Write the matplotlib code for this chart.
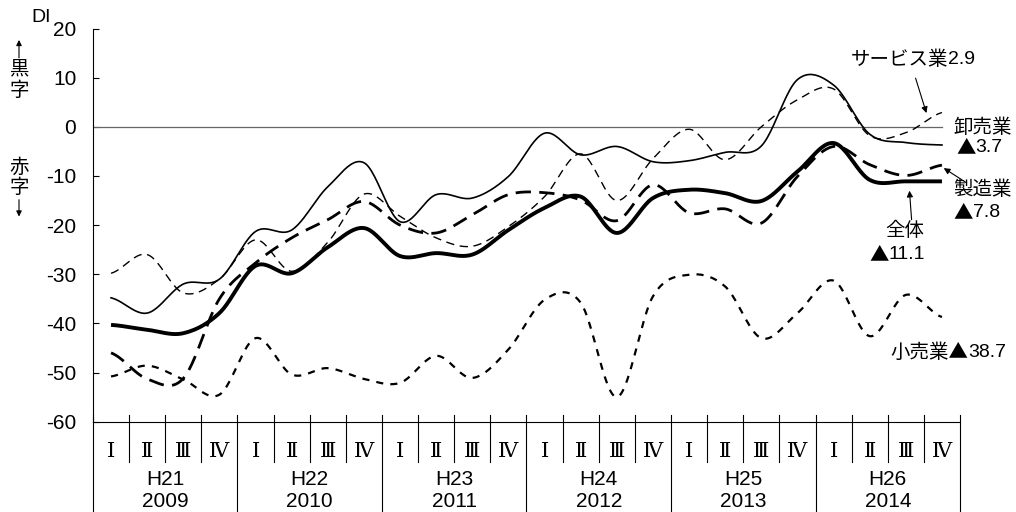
import numpy as np
import matplotlib
matplotlib.use("Agg")
import matplotlib.pyplot as plt
import matplotlib.transforms as mtransforms

plt.rcParams['font.family'] = ['Liberation Sans', 'Noto Sans CJK JP', 'DejaVu Sans']
plt.rcParams['axes.unicode_minus'] = False
CJK = ['Noto Sans CJK JP', 'DejaVu Sans']

# 四半期ごとの採算DI（2009年I期～2014年IV期）
quarters = ['Ⅰ', 'Ⅱ', 'Ⅲ', 'Ⅳ'] * 6
heisei = ['H21', 'H22', 'H23', 'H24', 'H25', 'H26']
years = ['2009', '2010', '2011', '2012', '2013', '2014']

zentai = [-40.3, -41.3, -42.0, -37.9, -28.3, -29.8, -24.5, -20.6,
          -26.3, -25.7, -26.0, -21.0, -16.5, -14.2, -21.6, -14.5,
          -12.8, -13.5, -15.1, -9.1, -3.3, -10.8, -11.1, -11.1]
seizo = [-46.0, -51.3, -51.2, -35.0, -27.7, -22.6, -18.9, -15.2,
         -20.0, -21.6, -17.9, -13.8, -13.4, -14.9, -19.1, -11.8,
         -17.5, -16.7, -19.6, -10.1, -4.0, -7.7, -9.9, -7.8]
oroshi = [-34.8, -37.9, -32.0, -31.0, -21.3, -21.0, -12.2, -7.3,
          -19.3, -13.8, -14.5, -10.1, -1.3, -5.7, -4.0, -7.1,
          -6.9, -5.2, -3.9, 9.6, 8.5, -1.5, -3.2, -3.7]
service = [-29.8, -26.0, -33.8, -31.0, -23.0, -29.4, -23.5, -13.7,
           -18.2, -22.6, -24.3, -20.3, -14.2, -5.5, -15.0, -6.5,
           -0.5, -6.7, 0.0, 5.5, 7.7, -1.8, -1.2, 2.9]
kouri = [-50.8, -48.6, -51.4, -54.5, -43.0, -50.4, -49.1, -51.3,
         -52.1, -46.6, -51.1, -45.3, -35.2, -35.8, -55.0, -34.5,
         -30.1, -32.5, -43.0, -37.9, -31.3, -42.6, -34.2, -38.7]


def smooth(vals, n=24):
    # Catmull-Rom曲線で各四半期の値を滑らかにつなぐ
    p = np.asarray(vals, float)
    x = np.arange(len(p)) + 0.5
    pp = np.r_[p[0], p, p[-1]]
    xs, ys = [], []
    t = np.linspace(0, 1, n, endpoint=False)
    for i in range(len(p) - 1):
        p0, p1, p2, p3 = pp[i:i + 4]
        y = 0.5 * (2 * p1 + (-p0 + p2) * t + (2 * p0 - 5 * p1 + 4 * p2 - p3) * t ** 2
                   + (-p0 + 3 * p1 - 3 * p2 + p3) * t ** 3)
        xs.append(x[i] + t)
        ys.append(y)
    xs.append([x[-1]])
    ys.append([p[-1]])
    return np.concatenate(xs), np.concatenate(ys)


fig = plt.figure(figsize=(10.16, 5.12), dpi=100)
ax = fig.add_axes([0.0915, 0.1764, 0.8534, 0.7679])

ax.plot([0, 23.5], [0, 0], color='#666666', lw=0.9)

x, y = smooth(kouri)
ax.plot(x, y, color='black', lw=1.6, dashes=(3.2, 3.2))
x, y = smooth(service)
ax.plot(x, y, color='black', lw=1.0, dashes=(6, 4))
x, y = smooth(oroshi)
ax.plot(x, y, color='black', lw=1.2)
x, y = smooth(seizo)
ax.plot(x, y, color='black', lw=2.0, dashes=(5.5, 3))
x, y = smooth(zentai)
ax.plot(x, y, color='black', lw=2.8, solid_capstyle='butt')

ax.set_xlim(0, 24)
ax.set_ylim(-60, 20)
ax.set_yticks(range(-60, 21, 10))
ax.tick_params(axis='y', direction='in', length=4, width=0.8, pad=12, labelsize=15)
ax.set_xticks([])
for s in ['top', 'right']:
    ax.spines[s].set_visible(False)
ax.spines['left'].set_linewidth(0.8)
ax.spines['bottom'].set_linewidth(0.8)

# 下部の期・年の区切り表
trans = mtransforms.blended_transform_factory(ax.transData, ax.transAxes)
for k in range(25):
    bottom = -0.23 if k % 4 == 0 else -0.1025
    ax.plot([k, k], [0.017, bottom], transform=trans, color='black', lw=0.8,
            clip_on=False)
for i, q in enumerate(quarters):
    ax.text(i + 0.5, -0.077, q, transform=trans, ha='center', va='center',
            fontsize=15, family=['DejaVu Serif', 'Noto Sans CJK JP'])
for j in range(len(years)):
    ax.text(j * 4 + 2, -0.148, heisei[j], transform=trans, ha='center',
            va='center', fontsize=15)
    ax.text(j * 4 + 2, -0.203, years[j], transform=trans, ha='center',
            va='center', fontsize=15)


def tri_label(xb, yc, head, num):
    # 「▲」までを和文フォント、数値を欧文フォントで書き分ける
    ax.text(xb, yc, head, ha='right', va='center', fontsize=14, family=CJK,
            clip_on=False)
    ax.text(xb, yc, num, ha='left', va='center', fontsize=14, clip_on=False)


# 系列ラベル
arrow = dict(arrowstyle='-|>', lw=0.8, color='black', mutation_scale=9,
             shrinkA=0, shrinkB=0)
tri_label(23.68, 13.6, 'サービス業', '2.9')
ax.annotate('', xy=(23.07, 2.8), xytext=(22.77, 9.9), arrowprops=arrow)
ax.text(24.63, -0.2, '卸売業', ha='center', va='center', fontsize=14,
        family=CJK, clip_on=False)
tri_label(24.43, -4.3, '▲', '3.7')
ax.text(24.63, -12.8, '製造業', ha='center', va='center', fontsize=14,
        family=CJK, clip_on=False)
tri_label(24.35, -17.5, '▲', '7.8')
ax.annotate('', xy=(23.55, -8.4), xytext=(24.18, -11.4), arrowprops=arrow,
            annotation_clip=False)
ax.text(22.47, -21.2, '全体', ha='center', va='center', fontsize=14, family=CJK)
tri_label(22.02, -26.0, '▲', '11.1')
ax.annotate('', xy=(22.6, -13.0), xytext=(22.66, -18.9), arrowprops=arrow)
tri_label(24.24, -46.0, '小売業▲', '38.7')

# 縦軸の説明
fig.text(0.040, 0.966, 'DI', ha='center', va='center', fontsize=14)
fig.text(0.0187, 0.865, '黒', ha='center', va='center', fontsize=14, family=CJK)
fig.text(0.0187, 0.824, '字', ha='center', va='center', fontsize=14, family=CJK)
fig.text(0.0187, 0.674, '赤', ha='center', va='center', fontsize=14, family=CJK)
fig.text(0.0187, 0.633, '字', ha='center', va='center', fontsize=14, family=CJK)
arrow_f = dict(arrowstyle='-|>', lw=0.8, color='black', mutation_scale=8,
               shrinkA=0, shrinkB=0)
ax.annotate('', xy=(0.0187, 0.922), xytext=(0.0187, 0.887), xycoords='figure fraction',
            textcoords='figure fraction', arrowprops=arrow_f)
ax.annotate('', xy=(0.0187, 0.577), xytext=(0.0187, 0.610), xycoords='figure fraction',
            textcoords='figure fraction', arrowprops=arrow_f)

fig.savefig('out.png', dpi=100)
